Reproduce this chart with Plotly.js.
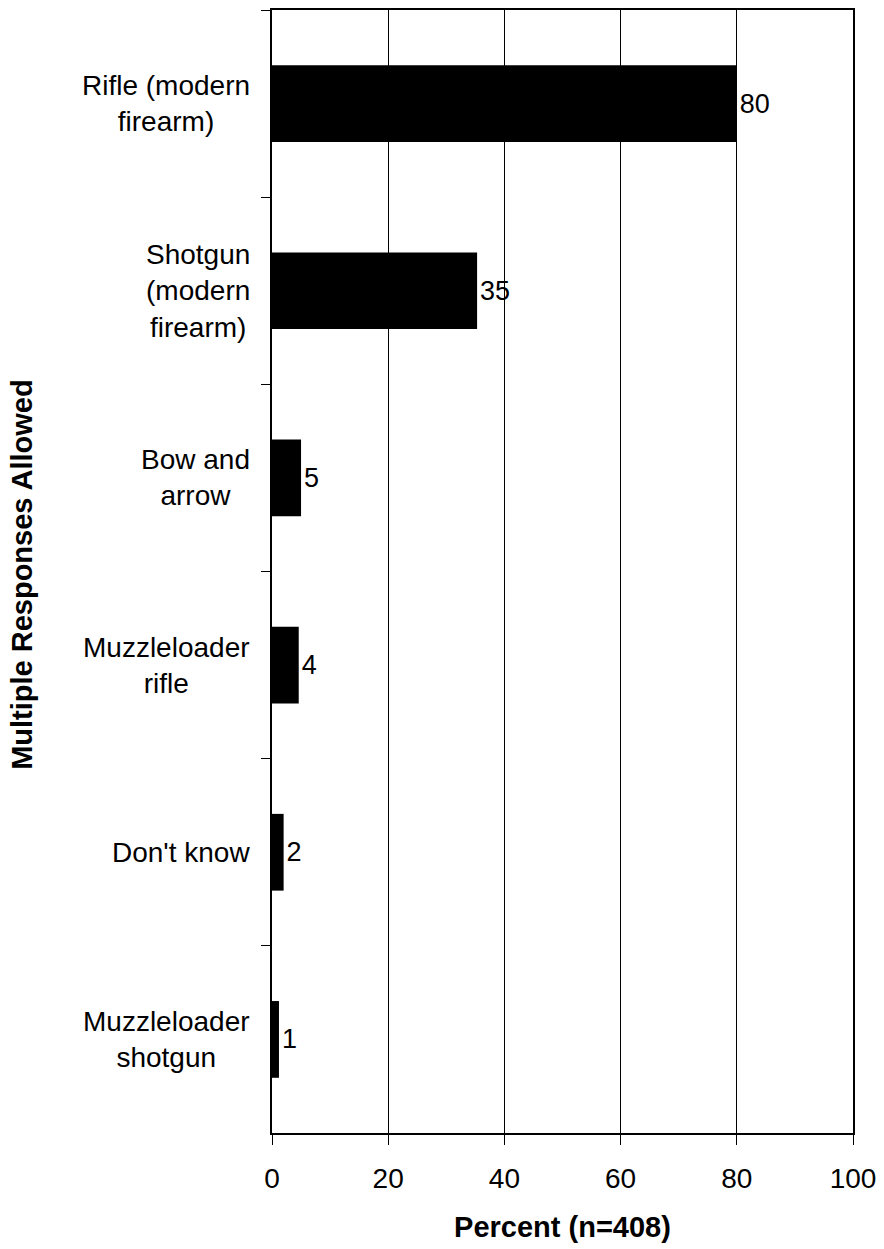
<!DOCTYPE html>
<html>
<head>
<meta charset="utf-8">
<script src="https://cdn.plot.ly/plotly-3.0.1.min.js"></script>
<style>
  html, body { margin: 0; padding: 0; background: #fff; }
  #chart { width: 884px; height: 1249px; }
</style>
</head>
<body>
<div id="chart"></div>
<script>
// Categories (top to bottom) and their display labels
const categories = [
  "Rifle (modern firearm)",
  "Shotgun (modern firearm)",
  "Bow and arrow",
  "Muzzleloader rifle",
  "Don't know",
  "Muzzleloader shotgun"
];
const categoryLabels = [
  "Rifle (modern<br>firearm)",
  "Shotgun<br>(modern<br>firearm)",
  "Bow and<br>arrow",
  "Muzzleloader<br>rifle",
  "Don't know",
  "Muzzleloader<br>shotgun"
];
// Percent values
const percents = [80, 35.3, 5.0, 4.6, 2.0, 1.2];
// Printed value labels
const valueLabels = ["80", "35", "5", "4", "2", "1"];
const xTickVals = [0, 20, 40, 60, 80, 100];

const FONT = "Arial, 'Liberation Sans', Helvetica, sans-serif";

const trace = {
  type: "bar",
  orientation: "h",
  y: categories,
  x: percents,
  text: valueLabels,
  textposition: "outside",
  textfont: { family: FONT, size: 27, color: "#000" },
  constraintext: "none",
  cliponaxis: false,
  marker: { color: "#000", line: { width: 0 } },
  hoverinfo: "none"
};

const annotations = categories.map((c, i) => ({
  xref: "paper", yref: "y",
  x: 0, y: c,
  xanchor: "right", yanchor: "middle",
  xshift: -20,
  text: categoryLabels[i],
  align: "center",
  showarrow: false,
  font: { family: FONT, size: 28, color: "#000" }
}));

annotations.push({
  xref: "paper", yref: "paper",
  x: (22 - 272) / 581, y: 0.497,
  xanchor: "center", yanchor: "middle",
  textangle: -90,
  text: "<b>Multiple Responses Allowed</b>",
  showarrow: false,
  font: { family: FONT, size: 29, color: "#000" }
});

const layout = {
  width: 884,
  height: 1249,
  paper_bgcolor: "#fff",
  plot_bgcolor: "#fff",
  margin: { l: 272, r: 31, t: 10, b: 116, pad: 0 },
  showlegend: false,
  bargap: 0.59,
  font: { family: FONT, color: "#000" },
  xaxis: {
    range: [0, 100],
    tickvals: xTickVals,
    ticktext: xTickVals.map(String),
    ticks: "outside",
    ticklen: 10,
    tickwidth: 1,
    tickcolor: "#000",
    ticklabelstandoff: 9,
    showgrid: true,
    gridcolor: "#000",
    gridwidth: 1,
    zeroline: false,
    showline: true,
    linecolor: "#000",
    linewidth: 2,
    mirror: true,
    tickfont: { family: FONT, size: 28, color: "#000" },
    title: {
      text: "<b>Percent (n=408)</b>",
      font: { family: FONT, size: 29, color: "#000" },
      standoff: 24
    },
    fixedrange: true
  },
  yaxis: {
    type: "category",
    categoryorder: "array",
    categoryarray: categories,
    autorange: "reversed",
    tickson: "boundaries",
    ticks: "outside",
    ticklen: 9,
    tickwidth: 1,
    tickcolor: "#000",
    showticklabels: false,
    showgrid: false,
    zeroline: false,
    showline: true,
    linecolor: "#000",
    linewidth: 2,
    mirror: true,
    fixedrange: true
  },
  annotations: annotations
};

Plotly.newPlot("chart", [trace], layout, { displayModeBar: false, staticPlot: true });
</script>
</body>
</html>
